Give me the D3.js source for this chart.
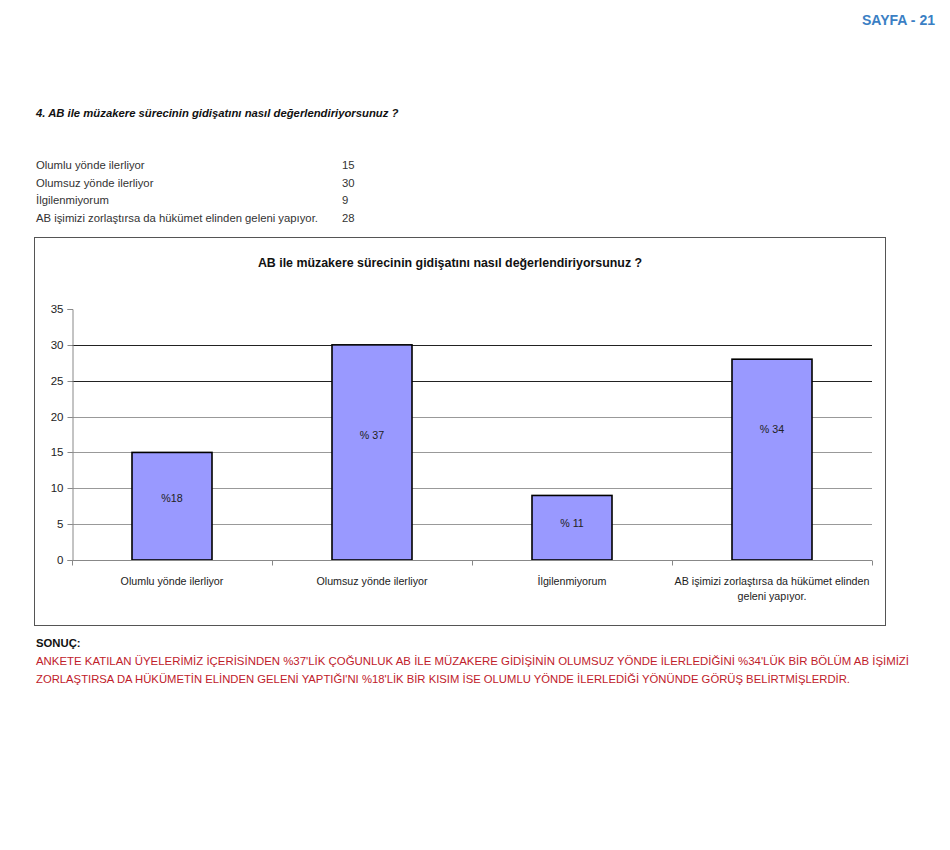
<!DOCTYPE html>
<html><head><meta charset="utf-8">
<script src="https://cdn.jsdelivr.net/npm/d3@7"></script>
<style>body{margin:0;background:#fff}svg{display:block}</style>
</head><body>
<script>
const categories = ["Olumlu yönde ilerliyor","Olumsuz yönde ilerliyor","İlgilenmiyorum","AB işimizi zorlaştırsa da hükümet elinden geleni yapıyor."];
const axisLabels = [["Olumlu yönde ilerliyor"],["Olumsuz yönde ilerliyor"],["İlgilenmiyorum"],["AB işimizi zorlaştırsa da hükümet elinden","geleni yapıyor."]];
const values = [15,30,9,28];
const percentLabels = ["%18","% 37","% 11","% 34"];
const yTicks = [0,5,10,15,20,25,30,35];
const pageTitle = "SAYFA - 21";
const question = "4. AB ile müzakere sürecinin gidişatını nasıl değerlendiriyorsunuz ?";
const chartTitle = "AB ile müzakere sürecinin gidişatını nasıl değerlendiriyorsunuz ?";
const conclusionHead = "SONUÇ:";
const conclusionLines = ["ANKETE KATILAN ÜYELERİMİZ İÇERİSİNDEN %37'LİK ÇOĞUNLUK AB İLE MÜZAKERE GİDİŞİNİN OLUMSUZ YÖNDE İLERLEDİĞİNİ %34'LÜK BİR BÖLÜM AB İŞİMİZİ","ZORLAŞTIRSA DA HÜKÜMETİN ELİNDEN GELENİ YAPTIĞI'NI %18'LİK BİR KISIM İSE OLUMLU YÖNDE İLERLEDİĞİ  YÖNÜNDE GÖRÜŞ BELİRTMİŞLERDİR."];

const svg = d3.select("body").append("svg").attr("width",950).attr("height",850);
const F = "Liberation Sans, Arial, sans-serif";

svg.append("text").attr("x",935).attr("y",25).attr("text-anchor","end")
  .attr("font-family",F).attr("font-weight","bold")
  .attr("font-size",14.5).attr("textLength",73).attr("lengthAdjust","spacingAndGlyphs")
  .attr("fill","#3b7fc4").text(pageTitle);

svg.append("text").attr("x",36).attr("y",117).attr("font-family",F).attr("font-weight","bold")
  .attr("font-style","italic").attr("font-size",11.3).attr("fill","#111").text(question);

const tbl = svg.append("g");
categories.forEach((c,i)=>{
  tbl.append("text").attr("x",36).attr("y",169+i*17.5).attr("font-family",F).attr("font-size",11.3).attr("fill","#333").text(c);
  tbl.append("text").attr("x",342).attr("y",169+i*17.5).attr("font-family",F).attr("font-size",11.3).attr("fill","#333").text(values[i]);
});

// chart box
svg.append("rect").attr("x",34.5).attr("y",237.5).attr("width",851).attr("height",388)
  .attr("fill","#fff").attr("stroke","#555").attr("stroke-width",1);

svg.append("text").attr("x",450).attr("y",267).attr("text-anchor","middle").attr("font-family",F)
  .attr("font-weight","bold").attr("font-size",12.4).attr("fill","#111").text(chartTitle);

const x = d3.scaleBand().domain(categories).range([72,872]).paddingInner(0.6).paddingOuter(0.3);
const y = d3.scaleLinear().domain([0,35]).range([560,309]);

// gridlines
const g = svg.append("g");
g.selectAll("line.grid").data(yTicks.filter(t=>t>0 && t<35)).join("line")
  .attr("x1",72).attr("x2",872).attr("y1",d=>Math.round(y(d))+0.5).attr("y2",d=>Math.round(y(d))+0.5)
  .attr("stroke",d=>d>=25?"#222":"#999").attr("stroke-width",1.2);

// y axis
const yAxis = svg.append("g").attr("transform","translate(72.5,0)")
  .call(d3.axisLeft(y).tickValues(yTicks).tickSize(5).tickPadding(4));
yAxis.select(".domain").attr("stroke","#888");
yAxis.selectAll(".tick line").attr("stroke","#888");
yAxis.selectAll(".tick text").attr("font-family",F).attr("font-size",11.5).attr("fill","#222");
yAxis.selectAll(".tick").attr("transform",d=>`translate(0,${Math.round(y(d))+0.5})`);

// bars
svg.append("g").selectAll("rect").data(values).join("rect")
  .attr("x",(d,i)=>x(categories[i])).attr("width",x.bandwidth())
  .attr("y",d=>y(d)).attr("height",d=>y(0)-y(d))
  .attr("fill","#9999ff").attr("stroke","#000").attr("stroke-width",1.6);

// x axis
const xAxisG = svg.append("g").attr("transform","translate(0,560.5)");
xAxisG.append("line").attr("x1",72).attr("x2",872).attr("stroke","#888");
const bounds = [0,1,2,3,4].map(i=>72+i*x.step());
xAxisG.selectAll("line.tk").data(bounds).join("line").attr("class","tk")
  .attr("x1",d=>d+0.5).attr("x2",d=>d+0.5).attr("y1",0).attr("y2",5).attr("stroke","#888");
axisLabels.forEach((lines,i)=>{
  const t = xAxisG.append("text").attr("text-anchor","middle").attr("font-family",F).attr("font-size",10.7).attr("fill","#222");
  lines.forEach((l,j)=>t.append("tspan").attr("x",x(categories[i])+x.bandwidth()/2).attr("y",24+j*15).text(l));
});

// data labels
svg.append("g").selectAll("text").data(values).join("text")
  .attr("x",(d,i)=>x(categories[i])+x.bandwidth()/2)
  .attr("y",(d,i)=>y(d*(i===3?0.65:0.58))+4)
  .attr("text-anchor","middle").attr("font-family",F).attr("font-size",10.7).attr("fill","#222")
  .text((d,i)=>percentLabels[i]);

// conclusion
svg.append("text").attr("x",36).attr("y",647).attr("font-family",F).attr("font-weight","bold")
  .attr("font-size",11.3).attr("fill","#111").text(conclusionHead);
const concW = [873, 814];
conclusionLines.forEach((l,i)=>{
  svg.append("text").attr("x",36).attr("y",665+i*18).attr("font-family",F)
    .attr("font-size",11.8).attr("textLength",concW[i]).attr("lengthAdjust","spacingAndGlyphs")
    .attr("fill","#c0202a").text(l);
});
</script>
</body></html>
